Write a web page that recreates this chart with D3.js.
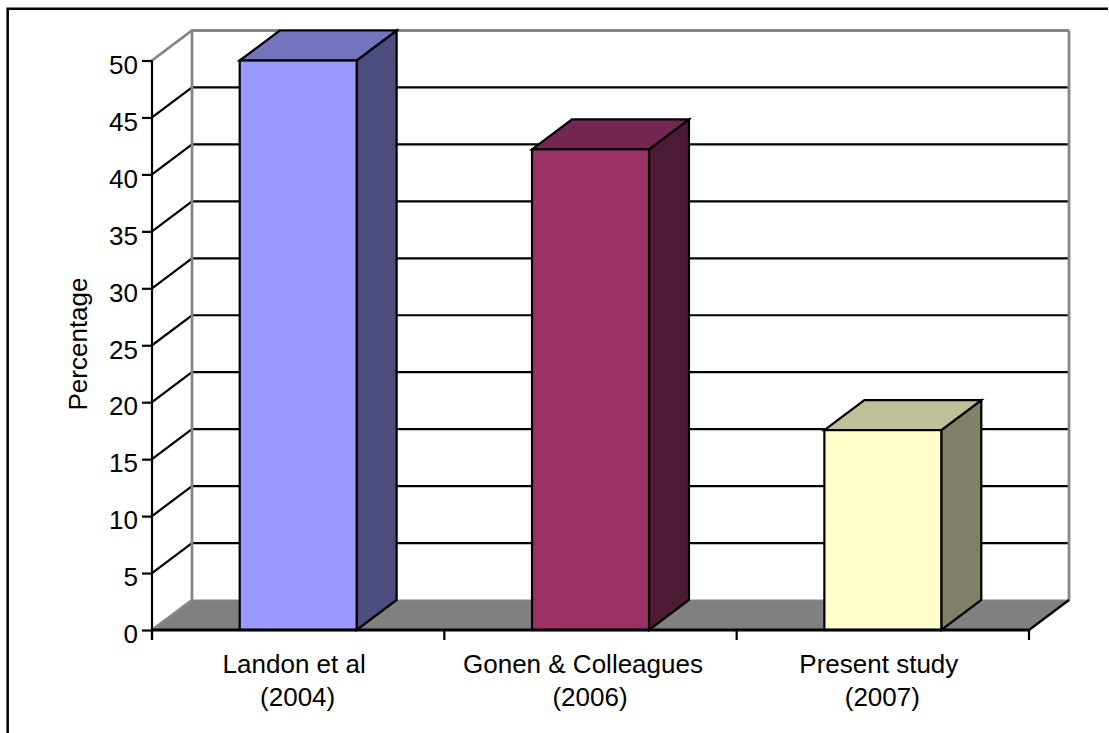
<!DOCTYPE html>
<html>
<head>
<meta charset="utf-8">
<script src="https://cdn.jsdelivr.net/npm/d3@7/dist/d3.min.js"></script>
<style>
html,body{margin:0;padding:0;background:#fff;}
svg{display:block;}
text{font-family:"Liberation Sans",Arial,sans-serif;fill:#000;}
</style>
</head>
<body>
<script>
// Study comparison: percentage reported by each study
const studies = ["Landon et al", "Gonen & Colleagues", "Present study"];
const years = ["(2004)", "(2006)", "(2007)"];
const percentages = [50, 42.2, 17.55];
const yTicks = [0, 5, 10, 15, 20, 25, 30, 35, 40, 45, 50];
const frontColors = ["#9999FF", "#993366", "#FFFFCC"];
const topColors = ["#7373BF", "#732650", "#BFBF99"];
const sideColors = ["#4D4D80", "#4D1A33", "#808066"];

const width = 1109, height = 733;
const plot = {left: 152, right: 1029, top: 60.5, bottom: 630};
const depth = {x: 40, y: -30};   // oblique offset of the back wall
const wallGrey = "#868686";
const fontSize = 26;
const nameNudge = [-4, -7.5, -4];   // study names sit left of centre because of their trailing space

const svg = d3.select("body").append("svg").attr("width", width).attr("height", height);

const x = d3.scaleBand().domain(studies).range([plot.left, plot.right]).paddingInner(0.6).paddingOuter(0.3);
const band = d3.scaleBand().domain(studies).range([plot.left, plot.right]);
const y = d3.scaleLinear().domain([0, 50]).range([plot.bottom, plot.top]);

const poly = pts => d3.line()(pts) + "Z";

// Outer frame: top and left edges
svg.append("path")
  .attr("d", d3.line()([[1108, 8.7], [7.7, 8.7], [7.7, height]]))
  .attr("fill", "none").attr("stroke", "#000").attr("stroke-width", 2.5);

// Floor of the 3D box
svg.append("path")
  .attr("d", poly([[plot.left, plot.bottom], [plot.left + depth.x, plot.bottom + depth.y],
                   [plot.right + depth.x, plot.bottom + depth.y], [plot.right, plot.bottom]]))
  .attr("fill", "#808080").attr("stroke", wallGrey).attr("stroke-width", 1);

// Gridlines: a slanted run up the side wall, then across the back wall
svg.append("g").selectAll("path")
  .data(yTicks.filter(d => d > 0))
  .join("path")
  .attr("d", d => d3.line()([[plot.left, y(d)], [plot.left + depth.x, y(d) + depth.y],
                             [plot.right + depth.x, y(d) + depth.y]]))
  .attr("fill", "none")
  .attr("stroke", d => d === 50 ? wallGrey : "#000")
  .attr("stroke-width", d => d === 50 ? 2.8 : 2.2);

// Back wall verticals and the floor's back-left edge
svg.append("path")
  .attr("d", d3.line()([[plot.left, y(0)], [plot.left + depth.x, y(0) + depth.y], [plot.left + depth.x, y(50) + depth.y]]))
  .attr("fill", "none").attr("stroke", wallGrey).attr("stroke-width", 2.8);
svg.append("path")
  .attr("d", d3.line()([[plot.right + depth.x, y(50) + depth.y], [plot.right + depth.x, y(0) + depth.y], [plot.right + depth.x - 1, y(0) + depth.y + 1]]))
  .attr("fill", "none").attr("stroke", wallGrey).attr("stroke-width", 2.8);

// Bars: side, top and front faces
const bars = svg.append("g").selectAll("g")
  .data(studies.map((s, i) => ({s, v: percentages[i], i})))
  .join("g")
  .attr("stroke", "#000").attr("stroke-width", 2.2).attr("stroke-linejoin", "miter");

bars.append("path")
  .attr("fill", d => sideColors[d.i])
  .attr("d", d => {
    const r = x(d.s) + x.bandwidth();
    return poly([[r, y(d.v)], [r + depth.x, y(d.v) + depth.y], [r + depth.x, y(0) + depth.y], [r, y(0)]]);
  });
bars.append("path")
  .attr("fill", d => topColors[d.i])
  .attr("d", d => {
    const l = x(d.s), r = l + x.bandwidth();
    return poly([[l, y(d.v)], [l + depth.x, y(d.v) + depth.y], [r + depth.x, y(d.v) + depth.y], [r, y(d.v)]]);
  });
bars.append("rect")
  .attr("fill", d => frontColors[d.i])
  .attr("x", d => x(d.s)).attr("width", x.bandwidth())
  .attr("y", d => y(d.v)).attr("height", d => y(0) - y(d.v));

// Front floor edge, right-hand floor corner
svg.append("path")
  .attr("d", d3.line()([[plot.right + depth.x, plot.bottom + depth.y], [plot.right, plot.bottom]]))
  .attr("fill", "none").attr("stroke", "#000").attr("stroke-width", 2.2);

// Value axis
const yAxis = d3.axisLeft(y).tickValues(yTicks).tickSize(10).tickPadding(4);
const gy = svg.append("g").attr("transform", `translate(${plot.left},0)`).call(yAxis);
gy.selectAll(".domain").attr("stroke", "#000").attr("stroke-width", 2.2).attr("d", `M0,${plot.top}V${plot.bottom + 10}`);
gy.selectAll(".tick line").attr("stroke", "#000").attr("stroke-width", 2.2);
gy.selectAll(".tick text").attr("font-size", fontSize).attr("font-family", null).style("fill", "#000").attr("dy", "0.49em");

// Category axis: separators at band edges with two-line labels centred in each band
const bx = svg.append("g");
bx.append("line").attr("x1", plot.left).attr("x2", plot.right)
  .attr("y1", plot.bottom).attr("y2", plot.bottom).attr("stroke", "#000").attr("stroke-width", 2.8);
const edges = studies.map(s => band(s)).concat([plot.right]);
bx.selectAll(".sep").data(edges).join("line").attr("class", "sep")
  .attr("x1", d => d).attr("x2", d => d).attr("y1", plot.bottom).attr("y2", plot.bottom + 10)
  .attr("stroke", "#000").attr("stroke-width", 2.2);
const labels = bx.selectAll("text.cat").data(studies).join("text").attr("class", "cat")
  .attr("text-anchor", "middle").attr("font-size", fontSize);
labels.append("tspan").attr("x", (d, i) => band(d) + band.bandwidth() / 2 + nameNudge[i]).attr("y", 673).text(d => d);
labels.append("tspan").attr("x", d => band(d) + band.bandwidth() / 2 - 0.5).attr("y", 706).text((d, i) => years[i]);

// Value axis title
svg.append("text").attr("font-size", fontSize).attr("text-anchor", "middle")
  .attr("transform", "translate(87,344) rotate(-90)").text("Percentage");
</script>
</body>
</html>
